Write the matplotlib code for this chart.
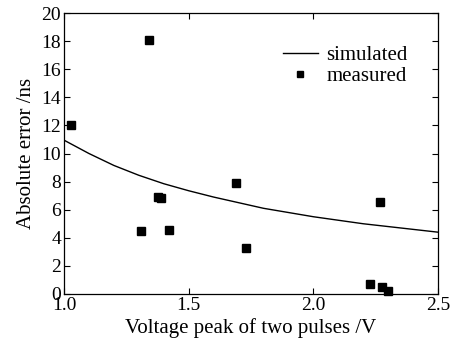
import matplotlib
matplotlib.use("Agg")
import matplotlib.pyplot as plt

plt.rcParams['font.family'] = ['Liberation Serif', 'DejaVu Serif']
plt.rcParams['mathtext.fontset'] = 'stix'

# simulated curve
sim_x = [1.0, 1.1, 1.2, 1.3, 1.4, 1.5, 1.6, 1.7, 1.8, 1.9, 2.0, 2.1, 2.2, 2.3, 2.4, 2.5]
sim_y = [10.95, 10.0, 9.15, 8.45, 7.85, 7.35, 6.9, 6.5, 6.1, 5.8, 5.5, 5.25, 5.0, 4.8, 4.6, 4.4]

# measured points
meas_x = [1.03, 1.34, 1.376, 1.389, 1.309, 1.42, 1.689, 1.731, 2.268, 2.227, 2.277, 2.30]
meas_y = [12.0, 18.05, 6.93, 6.81, 4.48, 4.53, 7.88, 3.25, 6.52, 0.71, 0.47, 0.21]

x_ticks = [1.0, 1.5, 2.0, 2.5]
y_ticks = [0, 2, 4, 6, 8, 10, 12, 14, 16, 18, 20]

fig = plt.figure(figsize=(4.51, 3.52), dpi=100)
ax = fig.add_axes([64 / 451, 1 - 294 / 352, (438 - 64) / 451, (294 - 13) / 352])

ax.plot(sim_x, sim_y, color='black', lw=1.0, label='simulated')
ax.plot(meas_x, meas_y, 's', color='black', ms=5.5, label='measured', clip_on=False)

ax.set_xlim(1.0, 2.5)
ax.set_ylim(0, 20)
ax.set_xticks(x_ticks)
ax.set_xticklabels([f"{v:.1f}" for v in x_ticks])
ax.set_yticks(y_ticks)
ax.tick_params(direction='in', top=True, right=True, length=4, width=0.8,
               labelsize=14, pad=2)
for s in ax.spines.values():
    s.set_linewidth(0.9)

ax.set_xlabel('Voltage peak of two pulses /V', fontsize=15, labelpad=3)
ax.set_ylabel('Absolute error /ns', fontsize=15, labelpad=4)

ax.legend(loc='upper right', bbox_to_anchor=(0.958, 0.935), frameon=False,
          fontsize=15, handlelength=1.7, handletextpad=0.4, labelspacing=0.05,
          borderpad=0.2, markerscale=0.8)

fig.savefig('out.png', dpi=100)
